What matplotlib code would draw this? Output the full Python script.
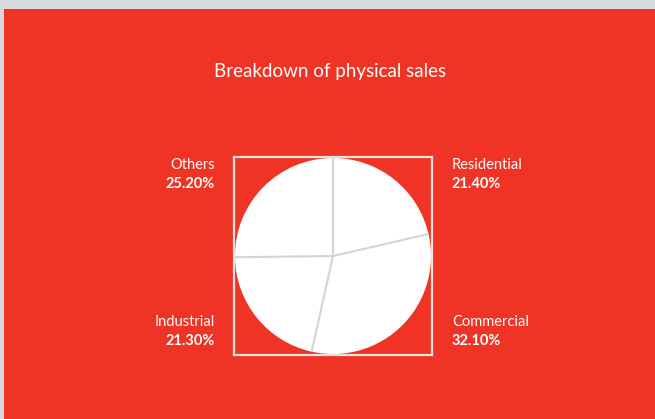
import numpy as np
import matplotlib.pyplot as plt
from matplotlib.patches import Rectangle

labels = ["Residential", "Commercial", "Industrial", "Others"]
shares = [21.40, 32.10, 21.30, 25.20]

W, H = 655, 419
red = "#EF3325"
grey = "#D8D9DB"

plt.rcParams['font.family'] = ['Lato', 'DejaVu Sans']

fig = plt.figure(figsize=(W / 100, H / 100), dpi=100)
fig.patch.set_facecolor(grey)
fig.patches.append(Rectangle((4 / W, 0), 1, (H - 9) / H, transform=fig.transFigure,
                             facecolor=red, edgecolor="none", zorder=-10))

fig.text(330 / W, 1 - 72 / H, "Breakdown of physical sales", color="white",
         fontsize=13.5, ha="center", va="center")

# pie inside a square frame
ax = fig.add_axes([234 / W, 1 - 355 / H, 198 / W, 198 / H])
ax.set_facecolor("none")
ax.pie(shares, startangle=90, counterclock=False, radius=1, frame=True,
       colors=["white"] * len(shares), wedgeprops=dict(linewidth=0))
# separator lines between slices (no outline on the outer arc)
bounds = 90 - np.cumsum([0] + shares[:-1]) / 100 * 360
for a in np.radians(bounds):
    ax.plot([0, np.cos(a)], [0, np.sin(a)], color="#D4D4D4", lw=1.5,
            solid_capstyle="butt")
ax.set_xlim(-1.01, 1.01)
ax.set_ylim(-1.01, 1.01)
ax.set_aspect("auto")
ax.set_xticks([])
ax.set_yticks([])
for s in ax.spines.values():
    s.set_visible(True)
    s.set_color("#E2E2E2")
    s.set_linewidth(1.6)

# labels at the four corners
pos = {
    "Residential": (452, 165, "left"),
    "Commercial": (452, 322, "left"),
    "Industrial": (215, 322, "right"),
    "Others": (215, 165, "right"),
}
for name, val in zip(labels, shares):
    x, y, ha = pos[name]
    fig.text(x / W, 1 - y / H, name, color="white", fontsize=10.5, ha=ha, va="center")
    fig.text(x / W, 1 - (y + 19) / H, f"{val:.2f}%", color="white", fontsize=10.5,
             fontweight="bold", ha=ha, va="center")

fig.savefig("out.png", dpi=100, facecolor=fig.get_facecolor())
